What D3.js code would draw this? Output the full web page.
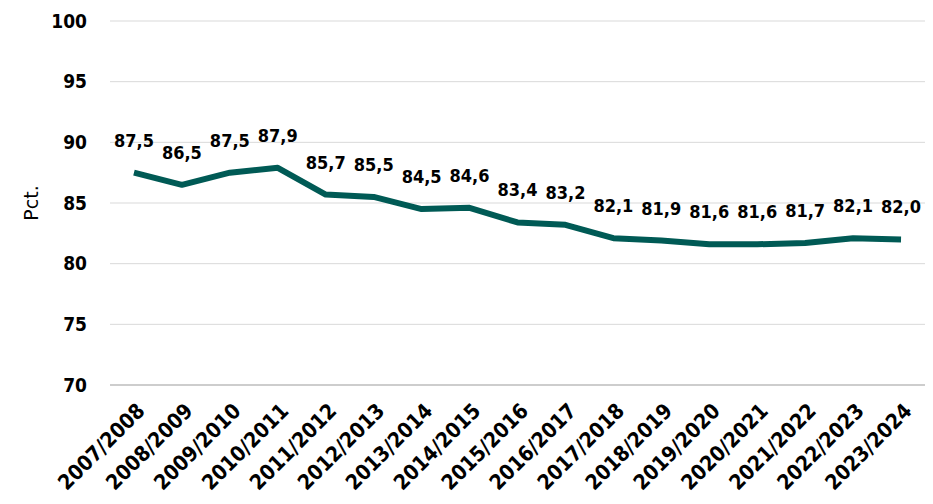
<!DOCTYPE html>
<html>
<head>
<meta charset="utf-8">
<script src="https://cdn.jsdelivr.net/npm/d3@7"></script>
<style>
  body { margin: 0; background: #fff; }
  svg text { font-family: "DejaVu Sans Condensed", "DejaVu Sans", sans-serif; fill: #000; }
</style>
</head>
<body>
<svg width="933" height="504"></svg>
<script>
const years = ['2007/2008', '2008/2009', '2009/2010', '2010/2011', '2011/2012', '2012/2013',
  '2013/2014', '2014/2015', '2015/2016', '2016/2017', '2017/2018', '2018/2019',
  '2019/2020', '2020/2021', '2021/2022', '2022/2023', '2023/2024'];
const values = [87.5, 86.5, 87.5, 87.9, 85.7, 85.5, 84.5, 84.6, 83.4, 83.2, 82.1, 81.9,
  81.6, 81.6, 81.7, 82.1, 82.0];
const yTicks = [70, 75, 80, 85, 90, 95, 100];

const font = '"DejaVu Sans Condensed", "DejaVu Sans", sans-serif';
const svg = d3.select('svg');
const margin = { top: 21, right: 8, bottom: 119, left: 110 };
const width = 933 - margin.left - margin.right;
const height = 504 - margin.top - margin.bottom;
const g = svg.append('g').attr('transform', `translate(${margin.left},${margin.top})`);

// Scales
const x = d3.scaleBand().domain(years).range([0, width]);
const y = d3.scaleLinear().domain([70, 100]).range([height, 0]);

// Gridlines
g.append('g')
  .selectAll('line')
  .data(yTicks)
  .join('line')
  .attr('x1', 0)
  .attr('x2', width)
  .attr('y1', d => y(d))
  .attr('y2', d => y(d))
  .attr('stroke', d => d === 70 ? '#bdbdbd' : '#d9d9d9')
  .attr('stroke-width', d => d === 70 ? 1.5 : 1);

// Y axis
const yAxis = g.append('g')
  .attr('transform', 'translate(-23,0)')
  .call(d3.axisLeft(y).tickValues(yTicks).tickSize(0).tickPadding(0));
yAxis.select('.domain').remove();
yAxis.selectAll('text')
  .style('font-size', '19px')
  .style('font-weight', 'bold')
  .style('font-family', font);

// X axis
const xAxis = g.append('g')
  .attr('transform', `translate(0,${height})`)
  .call(d3.axisBottom(x).tickSize(0));
xAxis.select('.domain').remove();
xAxis.selectAll('text')
  .style('font-size', '21px')
  .style('font-weight', 'bold')
  .style('font-family', font)
  .attr('text-anchor', 'end')
  .attr('dy', 0)
  .attr('transform', 'translate(10,25) rotate(-45)');

// Axis title
svg.append('text')
  .attr('transform', 'translate(38,203) rotate(-90)')
  .attr('text-anchor', 'middle')
  .style('font-size', '19px')
  .style('font-family', '"DejaVu Sans", sans-serif')
  .text('Pct.');

// Line
const line = d3.line()
  .x((d, i) => x(years[i]) + x.bandwidth() / 2)
  .y(d => y(d));

g.append('path')
  .datum(values)
  .attr('fill', 'none')
  .attr('stroke', '#005a55')
  .attr('stroke-width', 6)
  .attr('stroke-linejoin', 'round')
  .attr('d', line);

// Data labels
g.append('g')
  .selectAll('text')
  .data(values)
  .join('text')
  .attr('x', (d, i) => x(years[i]) + x.bandwidth() / 2)
  .attr('y', d => y(d) - 26)
  .attr('text-anchor', 'middle')
  .style('font-size', '18px')
  .style('font-weight', 'bold')
  .text(d => d.toFixed(1).replace('.', ','));
</script>
</body>
</html>
